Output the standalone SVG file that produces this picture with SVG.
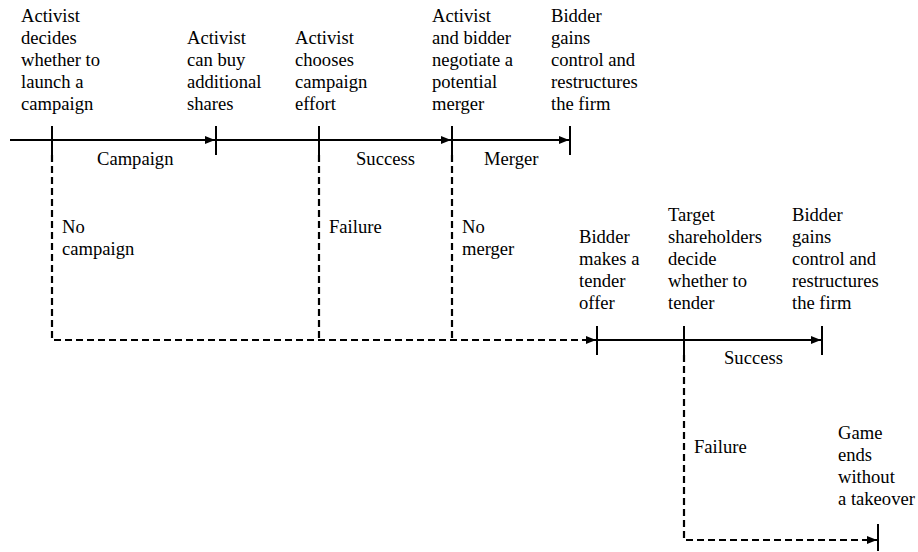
<svg xmlns="http://www.w3.org/2000/svg" width="918" height="552" viewBox="0 0 918 552">
<style>
text{font-family:'Liberation Serif','Times New Roman','DejaVu Serif',serif;font-size:18.6px;fill:#000}
.s{stroke:#000;stroke-width:2;fill:none}
.d{stroke:#000;stroke-width:2.2;fill:none;stroke-dasharray:7 4}
</style>
<defs>
<marker id="ah" viewBox="0 0 10 10" refX="10" refY="5" markerWidth="10" markerHeight="10" markerUnits="userSpaceOnUse" orient="auto">
<path d="M0,1 L10,5 L0,9 Z" fill="#000"/>
</marker>
</defs>
<rect width="918" height="552" fill="#fff"/>
<g id="connectors">
<line class="s" x1="10" y1="140" x2="52" y2="140"/>
<line class="s" x1="52" y1="140" x2="215" y2="140" marker-end="url(#ah)"/>
<line class="s" x1="216" y1="140" x2="319" y2="140"/>
<line class="s" x1="319" y1="140" x2="451" y2="140" marker-end="url(#ah)"/>
<line class="s" x1="452" y1="140" x2="569" y2="140" marker-end="url(#ah)"/>
<path class="d" d="M52,155 V340 H596" marker-end="url(#ah)"/>
<line class="d" x1="319" y1="155" x2="319" y2="340"/>
<line class="d" x1="452" y1="155" x2="452" y2="340"/>
<line class="s" x1="597" y1="340" x2="821" y2="340" marker-end="url(#ah)"/>
<path class="d" d="M684,355 V540 H877" marker-end="url(#ah)"/>
<text x="97" y="165">Campaign</text>
<text x="356" y="165">Success</text>
<text x="484" y="165">Merger</text>
<text x="62" y="233">No</text>
<text x="62" y="255">campaign</text>
<text x="329" y="233">Failure</text>
<text x="462" y="233">No</text>
<text x="462" y="255">merger</text>
<text x="724" y="364">Success</text>
<text x="694" y="453">Failure</text>
</g>
<g id="n1">
<line class="s" x1="52" y1="126" x2="52" y2="155"/>
<text x="21" y="22">Activist</text><text x="21" y="44">decides</text><text x="21" y="66">whether to</text><text x="21" y="88">launch a</text><text x="21" y="110">campaign</text>
</g>
<g id="n2">
<line class="s" x1="216" y1="126" x2="216" y2="155"/>
<text x="187" y="44">Activist</text><text x="187" y="66">can buy</text><text x="187" y="88">additional</text><text x="187" y="110">shares</text>
</g>
<g id="n3">
<line class="s" x1="319" y1="126" x2="319" y2="155"/>
<text x="295" y="44">Activist</text><text x="295" y="66">chooses</text><text x="295" y="88">campaign</text><text x="295" y="110">effort</text>
</g>
<g id="n4">
<line class="s" x1="452" y1="126" x2="452" y2="155"/>
<text x="432" y="22">Activist</text><text x="432" y="44">and bidder</text><text x="432" y="66">negotiate a</text><text x="432" y="88">potential</text><text x="432" y="110">merger</text>
</g>
<g id="n5">
<line class="s" x1="570" y1="126" x2="570" y2="155"/>
<text x="551" y="22">Bidder</text><text x="551" y="44">gains</text><text x="551" y="66">control and</text><text x="551" y="88">restructures</text><text x="551" y="110">the firm</text>
</g>
<g id="n6">
<line class="s" x1="597" y1="326" x2="597" y2="355"/>
<text x="579" y="243">Bidder</text><text x="579" y="265">makes a</text><text x="579" y="287">tender</text><text x="579" y="309">offer</text>
</g>
<g id="n7">
<line class="s" x1="684" y1="326" x2="684" y2="355"/>
<text x="668" y="221">Target</text><text x="668" y="243">shareholders</text><text x="668" y="265">decide</text><text x="668" y="287">whether to</text><text x="668" y="309">tender</text>
</g>
<g id="n8">
<line class="s" x1="822" y1="326" x2="822" y2="355"/>
<text x="792" y="221">Bidder</text><text x="792" y="243">gains</text><text x="792" y="265">control and</text><text x="792" y="287">restructures</text><text x="792" y="309">the firm</text>
</g>
<g id="n9">
<line class="s" x1="878" y1="524" x2="878" y2="551"/>
<text x="838" y="439">Game</text><text x="838" y="461">ends</text><text x="838" y="483">without</text><text x="838" y="505">a takeover</text>
</g>
</svg>
